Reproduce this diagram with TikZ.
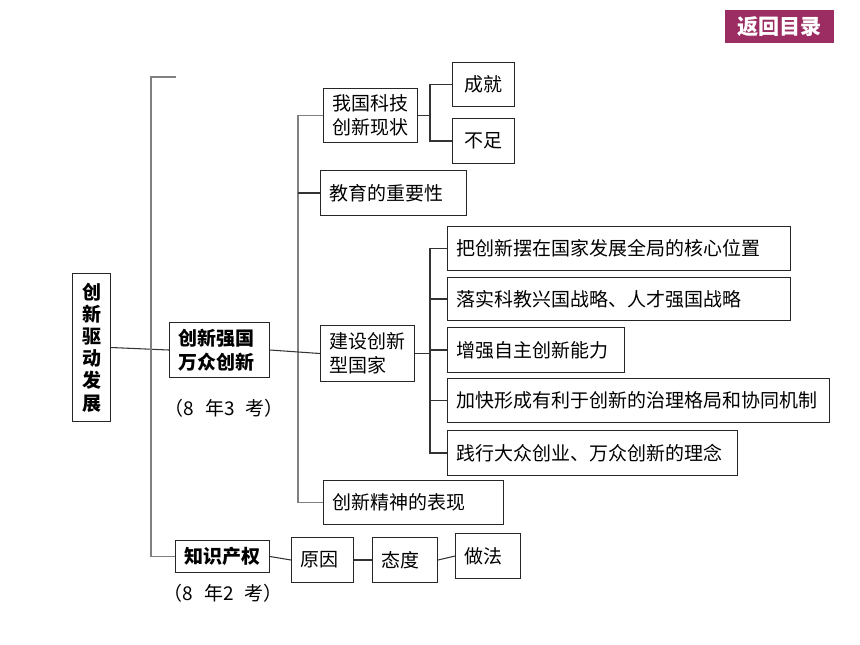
\documentclass[tikz,border=0pt]{standalone}
\usepackage{fontspec}
\usepackage{tikz}
\usetikzlibrary{calc}
\newfontfamily\cjk{Noto Sans CJK SC}
\definecolor{backred}{RGB}{155,45,98}
\tikzset{
  box/.style={draw=black!85, line width=0.6pt, anchor=north west, inner xsep=0.18cm, inner ysep=0pt, align=left, font=\cjk\fontsize{10.8}{13.6}\selectfont},
  boldbox/.style={box, font=\cjk\bfseries\fontsize{10.8}{13.6}\selectfont},
  link/.style={black!80, line width=0.6pt},
  brace/.style={black!50, line width=0.8pt},
  note/.style={font=\cjk\fontsize{10.8}{13.6}\selectfont},
}

\begin{document}
\begin{tikzpicture}[x=0.02cm, y=-0.02cm]
		%%%%% START %%%%%
		\useasboundingbox (0,0) rectangle (860,645);
		
		\node[fill=backred, text=white, anchor=north west, minimum width=2.18cm, minimum height=0.66cm, inner sep=0pt, font=\cjk\bfseries\fontsize{12}{14}\selectfont] (back) at (725,10) {返回目录};
		
		\node[boldbox, text width=0.4cm, align=center, minimum height=2.96cm, font=\cjk\bfseries\fontsize{10.8}{12.6}\selectfont] (root) at (72,273) {创\\新\\驱\\动\\发\\展};
		\node[boldbox, text width=1.64cm, minimum height=1.1cm] (strong) at (169,322) {创新强国\\万众创新};
		\node[note] (note1) at (224,408) {（8\hspace{0.6em}年3\hspace{0.6em}考）};
		
		\node[box, text width=1.52cm, minimum height=1.08cm, align=center] (status) at (323,88) {我国科技\\创新现状};
		\node[box, text width=0.88cm, minimum height=0.88cm, align=center] (achieve) at (452,62) {成就};
		\node[box, text width=0.88cm, minimum height=0.9cm, align=center] (lack) at (452,118) {不足};
		\node[box, text width=2.56cm, minimum height=0.9cm] (edu) at (320,170) {教育的重要性};
		\node[box, text width=1.52cm, minimum height=1.12cm] (build) at (320,325) {建设创新\\型国家};
		\node[box, text width=3.24cm, minimum height=0.88cm] (spirit) at (323,480) {创新精神的表现};
		
		\node[box, text width=6.5cm, minimum height=0.88cm] (p1) at (447,226) {把创新摆在国家发展全局的核心位置};
		\node[box, text width=6.5cm, minimum height=0.86cm] (p2) at (447,277) {落实科教兴国战略、人才强国战略};
		\node[box, text width=3.18cm, minimum height=0.9cm] (p3) at (447,327) {增强自主创新能力};
		\node[box, text width=7.28cm, minimum height=0.88cm] (p4) at (447,378) {加快形成有利于创新的治理格局和协同机制};
		\node[box, text width=5.44cm, minimum height=0.9cm] (p5) at (447,430) {践行大众创业、万众创新的理念};
		
		\node[boldbox, text width=1.52cm, minimum height=0.64cm] (ip) at (175,540) {知识产权};
		\node[note] (note2) at (223,593) {（8\hspace{0.6em}年2\hspace{0.6em}考）};
		\node[box, text width=0.88cm, minimum height=0.9cm] (cause) at (291,537) {原因};
		\node[box, text width=0.94cm, minimum height=0.9cm] (attitude) at (372,537) {态度};
		\node[box, text width=0.94cm, minimum height=0.9cm] (method) at (455,533) {做法};
		
		% brackets and links
		\draw[link] (root.east) -- (strong.west);
		\coordinate (bt) at (176,77);
		\coordinate (bx) at (151,77);
		\draw[brace] (bt) -- (bx) |- (ip.west);
		
		\coordinate (v2) at (298,0);
		\draw[brace] (status.west) -- (status.west -| v2) -- (spirit.west -| v2) -- (spirit.west);
		\draw[link] (edu.west) -- (edu.west -| v2);
		\draw[link] (strong.east) -- (build.west);
		
		\coordinate (v3) at (430,0);
		\draw[link] (status.east) -- (status.east -| v3);
		\draw[link] (achieve.west) -- (achieve.west -| v3) -- (lack.west -| v3) -- (lack.west);
		\draw[link] (build.east) -- (build.east -| v3);
		\draw[link] (p1.west) -- (p1.west -| v3) -- (p5.west -| v3) -- (p5.west);
		\foreach \p in {p2,p3,p4}
			\draw[link] (\p.west) -- (\p.west -| v3);
		
		\draw[link] (ip.east) -- (cause.west);
		\draw[link] (cause.east) -- (attitude.west);
		\draw[link] (attitude.east) -- (method.west);
		%%%%% END %%%%%
\end{tikzpicture}
\end{document}
